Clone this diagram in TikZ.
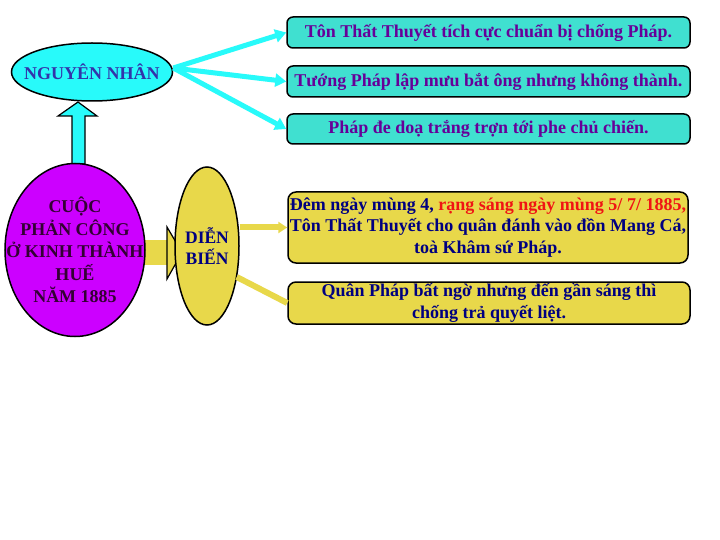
\documentclass[tikz,border=0pt]{standalone}
\usepackage{fontspec}
\setmainfont{Liberation Serif}
\usetikzlibrary{shapes.geometric,arrows.meta,calc}
\definecolor{cyanA}{RGB}{40,250,250}
\definecolor{turq}{RGB}{64,224,208}
\definecolor{purpleE}{RGB}{204,0,255}
\definecolor{yellowA}{RGB}{232,216,74}
\definecolor{txtpurple}{RGB}{102,0,153}
\definecolor{txtblue}{RGB}{51,51,170}
\definecolor{txtdark}{RGB}{51,0,51}
\definecolor{navyT}{RGB}{0,0,128}
\definecolor{redT}{RGB}{240,20,20}
\tikzset{
  cbox/.style={draw=black, line width=1.5pt, rounded corners=6pt, fill=turq, inner sep=0pt, align=center, text=txtpurple, font=\fontsize{18}{21.5}\selectfont\bfseries},
  ybox/.style={draw=black, line width=1.5pt, rounded corners=8pt, fill=yellowA, inner sep=0pt, align=center, text=navyT, font=\fontsize{18}{21.5}\selectfont\bfseries},
  carrow/.style={draw=cyanA, line width=5pt, -{Triangle[length=11pt,width=13pt]}},
  yline/.style={draw=yellowA, line width=6pt},
  blockarrow/.style={draw=black, line width=1.2pt, line join=miter},
  shapeell/.style={ellipse, draw=black, line width=1.5pt, inner sep=0pt}
}
\begin{document}
\begin{tikzpicture}[x=1pt,y=-1pt]
\useasboundingbox (0,0) rectangle (720,540);
\fill[white] (0,0) rectangle (720,540);
% block arrows (behind ellipses)
\filldraw[blockarrow, fill=cyanA] (72,164) -- (72,116) -- (58,116) -- (78,102) -- (97,116) -- (85,116) -- (85,164) -- cycle;
\fill[yellowA] (140,240) rectangle (168,265);
\filldraw[blockarrow, fill=yellowA] (167,227) -- (182,252.5) -- (167,279) -- cycle;
% nodes
\node[shapeell, fill=cyanA, minimum width=161pt, minimum height=58pt] (nn) at (92,72) {};
\node[text=txtblue, font=\fontsize{18}{21}\selectfont\bfseries, inner sep=0pt] (nnt) at (nn.center) {NGUYÊN NHÂN};
\node[shapeell, fill=purpleE, minimum width=140pt, minimum height=173pt] (pc) at (75,250) {};
\node[align=center, text=txtdark, font=\fontsize{18}{22.5}\selectfont\bfseries, inner sep=0pt] (pct) at (pc.center) {CUỘC\\PHẢN CÔNG\\Ở KINH THÀNH\\HUẾ\\NĂM 1885};
\node[shapeell, fill=yellowA, minimum width=64pt, minimum height=158pt] (db) at (207,246) {};
\node[align=center, text=navyT, font=\fontsize{17.5}{21}\selectfont\bfseries, inner sep=0pt] (dbt) at (db.center) {DIỄN\\BIẾN};
\node[cbox, minimum width=403pt, minimum height=31pt] (b1) at (488.5,32.5) {Tôn Thất Thuyết tích cực chuẩn bị chống Pháp.};
\node[cbox, minimum width=403pt, minimum height=31pt] (b2) at (488.5,81.5) {Tướng Pháp lập mưu bắt ông nhưng không thành.};
\node[cbox, minimum width=403pt, minimum height=30pt] (b3) at (488.5,129) {Pháp đe doạ trắng trợn tới phe chủ chiến.};
\node[ybox, minimum width=400pt, minimum height=71pt] (b4) at (488,227.5) {Đêm ngày mùng 4, \textcolor{redT}{rạng sáng ngày mùng 5/ 7/ 1885,}\\Tôn Thất Thuyết cho quân đánh vào đồn Mang Cá,\\toà Khâm sứ Pháp.};
\node[ybox, minimum width=402pt, minimum height=42pt] (b5) at (489,303) {Quân Pháp bất ngờ nhưng đến gần sáng thì\\chống trả quyết liệt.};
% connectors
\draw[carrow] ($(nn.east)+(0,-4)$) -- (b1.west);
\draw[carrow] ($(nn.east)+(0,-4)$) -- (b2.west);
\draw[carrow] ($(nn.east)+(0,-4)$) -- (b3.west);
\draw[yline, -{Triangle[length=9pt,width=11pt]}] (b4.west -| db.east) -- (b4.west);
\draw[yline] ($(db.east)+(-3,31)$) -- (b5.west);
\end{tikzpicture}
\end{document}
